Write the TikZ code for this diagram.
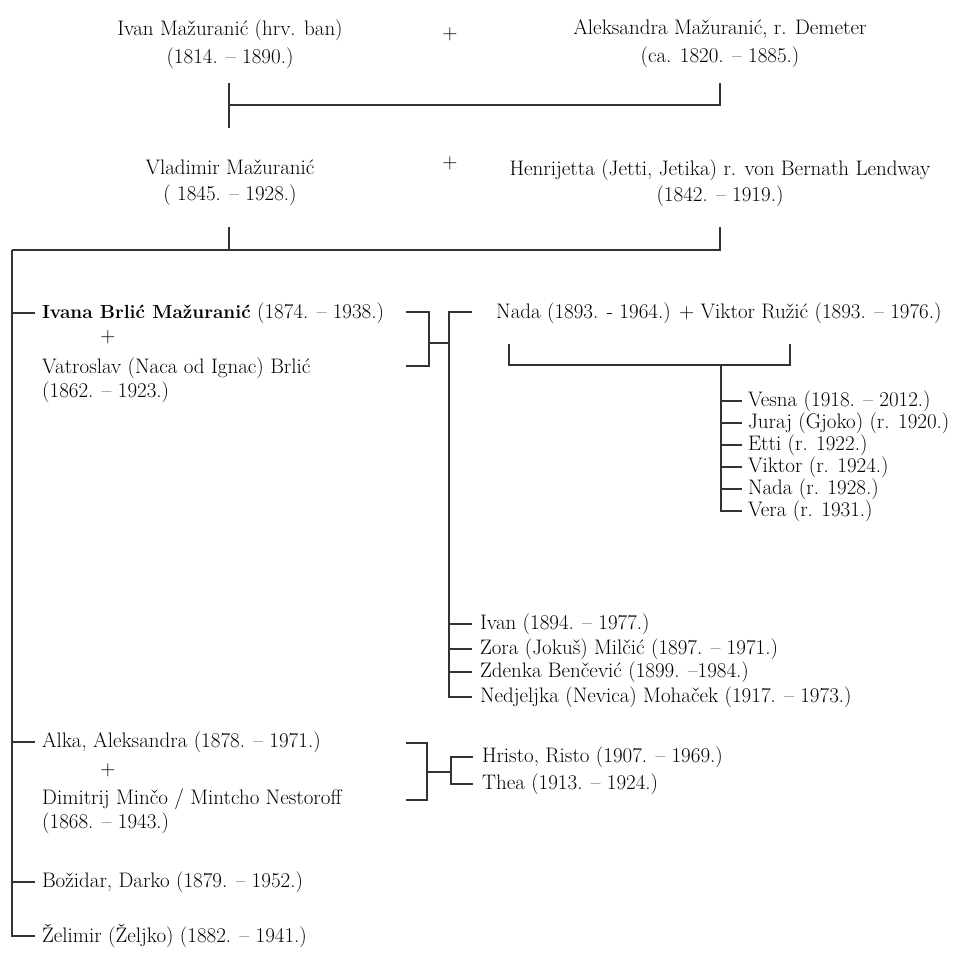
\documentclass[tikz,border=0pt]{standalone}
\usepackage{fontspec}
\newcommand\fsz{\fontsize{21}{28}\selectfont}
\newcommand\twol{\fontsize{21}{24}\selectfont}
\tikzset{
  ln/.style={draw=black!80, line width=1.3pt},
  txt/.style={inner sep=0pt, font=\fsz, text=black},
  lt/.style={txt, anchor=west, outer xsep=7pt},
}
\begin{document}
\begin{tikzpicture}[x=1pt,y=-1pt]
\useasboundingbox (0,0) rectangle (961,959);
% generation 1
\node[txt, align=center] (ivan) at (230,44) {Ivan Mažuranić (hrv. ban)\\(1814. – 1890.)};
\node[txt] (plus1) at (450,34) {+};
\node[txt, align=center] (alek) at (720,44) {Aleksandra Mažuranić, r. Demeter\\(ca. 1820. – 1885.)};
\coordinate (a1) at (229,83);
\coordinate (a2) at (229,128);
\coordinate (a3) at (720,83);
\coordinate (aj) at (229,105);
\draw[ln] (a1) -- (a2);
\draw[ln] (a3) |- (aj);
% generation 2
\node[txt, align=center, font=\fontsize{21}{26}\selectfont] (vlad) at (230,183) {Vladimir Mažuranić\\( 1845. – 1928.)};
\node[txt] (plus2) at (450,163) {+};
\node[txt, align=center, font=\fontsize{21}{26}\selectfont] (henr) at (720,183) {Henrijetta (Jetti, Jetika) r. von Bernath Lendway\\(1842. – 1919.)};
\coordinate (b1) at (229,227);
\coordinate (b2) at (720,227);
\coordinate (bm) at (12,250);
\draw[ln] (b2) |- (bm);
\draw[ln] (b1) -- (b1 |- bm);
% generation 3
\node[lt] (ivana) at (35,313) {{\fontsize{19}{28}\selectfont\bfseries Ivana Brlić Mažuranić} (1874. – 1938.)};
\node[txt] (plus3) at (108,337) {+};
\node[txt, anchor=west, align=left, font=\twol] (vatro) at (42,380) {Vatroslav (Naca od Ignac) Brlić\\(1862. – 1923.)};
\node[lt] (alka) at (35,742) {Alka, Aleksandra (1878. – 1971.)};
\node[txt] (plus4) at (108,770) {+};
\node[txt, anchor=west, align=left, font=\twol] (dimi) at (42,811) {Dimitrij Minčo / Mintcho Nestoroff\\(1868. – 1943.)};
\node[lt] (bozi) at (35,882) {Božidar, Darko (1879. – 1952.)};
\node[lt] (zeli) at (35,936) {Želimir (Željko) (1882. – 1941.)};
\draw[ln] (bm) |- (zeli.west);
\draw[ln] (bm |- ivana.west) -- (ivana.west);
\draw[ln] (bm |- alka.west) -- (alka.west);
\draw[ln] (bm |- bozi.west) -- (bozi.west);
% Ivana bracket
\coordinate (ib1) at (406,312);
\coordinate (ibt) at (429,312);
\coordinate (ibb) at (429,366);
\coordinate (ib2) at (406,366);
\coordinate (ibm) at (429,343);
\coordinate (ic) at (449,343);
\draw[ln] (ib1) -- (ibt) -- (ibb) -- (ib2);
\draw[ln] (ibm) -- (ic);
\coordinate (icv) at (449,312);
\coordinate (nadastub) at (472,312);
\node[txt, anchor=west] (nada) at (496,313) {Nada (1893. - 1964.) + Viktor Ružić (1893. – 1976.)};
\node[lt, outer xsep=8pt] (ivan2) at (472,624) {Ivan (1894. – 1977.)};
\node[lt, outer xsep=8pt] (zora) at (472,649) {Zora (Jokuš) Milčić (1897. – 1971.)};
\node[lt, outer xsep=8pt] (zden) at (472,672) {Zdenka Benčević (1899. –1984.)};
\node[lt, outer xsep=8pt] (nedj) at (472,697) {Nedjeljka (Nevica) Mohaček (1917. – 1973.)};
\draw[ln] (nadastub) -- (icv) |- (nedj.west);
\draw[ln] (icv |- ivan2.west) -- (ivan2.west);
\draw[ln] (icv |- zora.west) -- (zora.west);
\draw[ln] (icv |- zden.west) -- (zden.west);
% Nada bracket
\coordinate (nb1) at (509,344);
\coordinate (nb2) at (790,344);
\coordinate (nc) at (721,365);
\draw[ln] (nb1) |- (nb2 |- nc) -- (nb2);
\node[lt, outer xsep=6pt] (vesna) at (742,401) {Vesna (1918. – 2012.)};
\node[lt, outer xsep=6pt] (juraj) at (742,423) {Juraj (Gjoko) (r. 1920.)};
\node[lt, outer xsep=6pt] (etti) at (742,445) {Etti (r. 1922.)};
\node[lt, outer xsep=6pt] (vikt) at (742,467) {Viktor (r. 1924.)};
\node[lt, outer xsep=6pt] (nada2) at (742,489) {Nada (r. 1928.)};
\node[lt, outer xsep=6pt] (vera) at (742,511) {Vera (r. 1931.)};
\draw[ln] (nc) |- (vera.west);
\foreach \n in {vesna,juraj,etti,vikt,nada2} \draw[ln] (nc |- \n.west) -- (\n.west);
% Alka bracket
\coordinate (ab1) at (406,743);
\coordinate (abt) at (427,743);
\coordinate (abb) at (427,800);
\coordinate (ab2) at (406,800);
\coordinate (abm) at (427,772);
\coordinate (ac) at (451,772);
\draw[ln] (ab1) -- (abt) -- (abb) -- (ab2);
\draw[ln] (abm) -- (ac);
\node[lt, outer xsep=9pt] (hris) at (473,757) {Hristo, Risto (1907. – 1969.)};
\node[lt, outer xsep=9pt] (thea) at (473,784) {Thea (1913. – 1924.)};
\draw[ln] (hris.west) -| (ac) |- (thea.west);
\end{tikzpicture}
\end{document}
